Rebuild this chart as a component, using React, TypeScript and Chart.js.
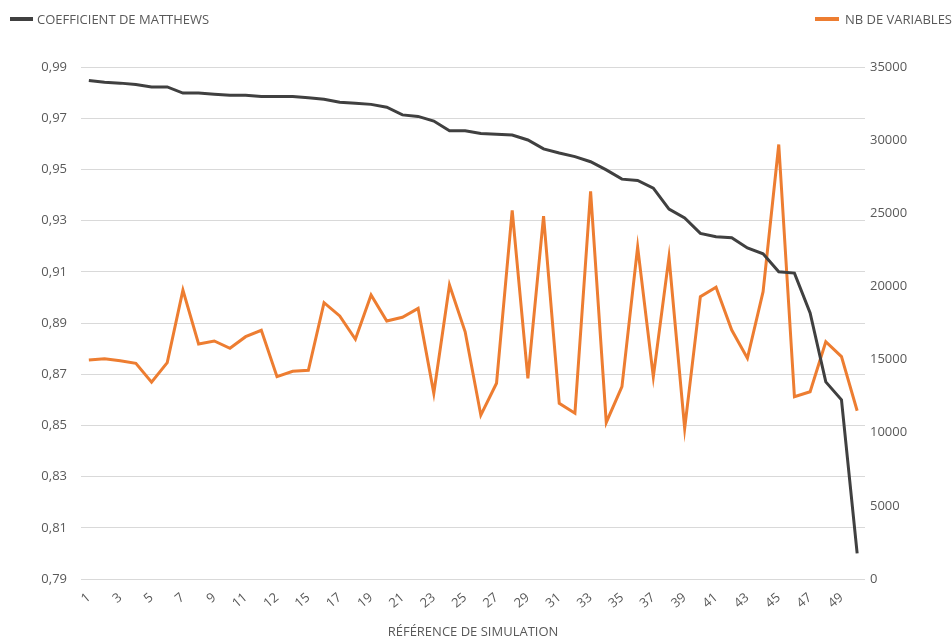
import React, { useEffect, useRef } from "react";
import { Chart, registerables } from "chart.js";

Chart.register(...registerables);

const categories: string[] = [
  "1", "2", "3", "4", "5", "6", "7", "8", "9", "10",
  "11", "12", "12", "14", "15", "16", "17", "18", "19", "20",
  "21", "22", "23", "24", "25", "26", "27", "28", "29", "30",
  "31", "32", "33", "34", "35", "36", "37", "38", "39", "40",
  "41", "42", "43", "44", "45", "46", "47", "48", "49", "50",
];

const mccValues: number[] = [
  0.9847, 0.984, 0.9837, 0.9832, 0.9822, 0.9822, 0.9798, 0.9798, 0.9794, 0.979,
  0.979, 0.9785, 0.9785, 0.9785, 0.978, 0.9774, 0.9762, 0.9758, 0.9754, 0.9743,
  0.9713, 0.9707, 0.9689, 0.9651, 0.9651, 0.964, 0.9637, 0.9634, 0.9615, 0.958,
  0.9564, 0.955, 0.953, 0.9498, 0.9462, 0.9457, 0.9427, 0.9345, 0.931, 0.925,
  0.9237, 0.9233, 0.9193, 0.917, 0.91, 0.9095, 0.8939, 0.867, 0.86, 0.8,
];

const nbVariables: number[] = [
  14970, 15060, 14925, 14740, 13450, 14790, 19750, 16065, 16270, 15770,
  16565, 17000, 13830, 14200, 14265, 18890, 17980, 16385, 19415, 17640,
  17890, 18500, 12700, 20100, 16900, 11200, 13380, 25200, 13720, 24800,
  12010, 11330, 26500, 10700, 13150, 22700, 13830, 22000, 10300, 19300,
  19940, 17020, 15090, 19640, 29700, 12460, 12800, 16220, 15200, 11500,
];

const leftTicks = { min: 0.79, max: 0.99, step: 0.02 };
const rightTicks = { min: 0, max: 35000, step: 5000 };

const TEXT = "#595959";
const FONT = "'Open Sans', 'Noto Sans', sans-serif";
const FS = 13;

export default function App() {
  const ref = useRef<HTMLCanvasElement | null>(null);

  useEffect(() => {
    if (!ref.current) return;
    const chart = new Chart(ref.current, {
      type: "line",
      data: {
        labels: categories,
        datasets: [
          {
            label: "COEFFICIENT DE MATTHEWS",
            data: mccValues,
            borderColor: "#404040",
            borderWidth: 3,
            pointRadius: 0,
            tension: 0,
            yAxisID: "y",
          },
          {
            label: "NB DE VARIABLES",
            data: nbVariables,
            borderColor: "#ED7D31",
            borderWidth: 3,
            pointRadius: 0,
            tension: 0,
            yAxisID: "y1",
          },
        ],
      },
      options: {
        animation: false,
        responsive: false,
        maintainAspectRatio: false,
        layout: { padding: { top: 67, left: 0, right: 0, bottom: 0 } },
        plugins: { legend: { display: false }, tooltip: { enabled: false } },
        scales: {
          x: {
            offset: true,
            grid: { display: false, drawTicks: false },
            border: { display: false },
            ticks: {
              autoSkip: false,
              minRotation: 40,
              maxRotation: 40,
              padding: 11,
              color: TEXT,
              font: { family: FONT, size: FS },
              callback: (_v: any, i: number) => (i % 2 === 0 ? categories[i] : ""),
            },
            title: {
              display: true,
              text: "RÉFÉRENCE DE SIMULATION",
              color: TEXT,
              font: { family: FONT, size: FS },
              padding: { top: 0, bottom: 1 },
            },
            afterFit: (s: any) => {
              s.height = 62;
            },
          },
          y: {
            position: "left",
            min: leftTicks.min,
            max: leftTicks.max,
            grid: { color: "#d9d9d9", drawTicks: false, lineWidth: 1 },
            border: { display: false },
            ticks: {
              stepSize: leftTicks.step,
              padding: 14,
              color: TEXT,
              font: { family: FONT, size: FS },
              callback: (v: any) => Number(v).toFixed(2).replace(".", ","),
            },
            afterFit: (s: any) => {
              s.width = 81;
            },
          },
          y1: {
            position: "right",
            min: rightTicks.min,
            max: rightTicks.max,
            grid: { display: false, drawTicks: false },
            border: { display: false },
            ticks: {
              stepSize: rightTicks.step,
              padding: 5,
              color: TEXT,
              font: { family: FONT, size: FS },
              callback: (v: any) => String(v),
            },
            afterFit: (s: any) => {
              s.width = 87;
            },
          },
        },
      },
    });
    return () => chart.destroy();
  }, []);

  const legendText: React.CSSProperties = {
    position: "absolute",
    top: 10,
    fontFamily: FONT,
    fontSize: FS,
    color: TEXT,
    lineHeight: "18px",
    whiteSpace: "nowrap",
  };

  return (
    <div
      style={{
        position: "fixed",
        left: 0,
        top: 0,
        width: 952,
        height: 641,
        background: "#fff",
        overflow: "hidden",
      }}
    >
      <canvas ref={ref} width={952} height={641} style={{ display: "block" }} />
      <div style={{ position: "absolute", left: 10, top: 17, width: 23, height: 4, background: "#404040" }} />
      <div style={{ ...legendText, left: 37 }}>COEFFICIENT DE MATTHEWS</div>
      <div style={{ position: "absolute", left: 815, top: 17, width: 24, height: 4, background: "#ED7D31" }} />
      <div style={{ ...legendText, left: 845 }}>NB DE VARIABLES</div>
    </div>
  );
}
